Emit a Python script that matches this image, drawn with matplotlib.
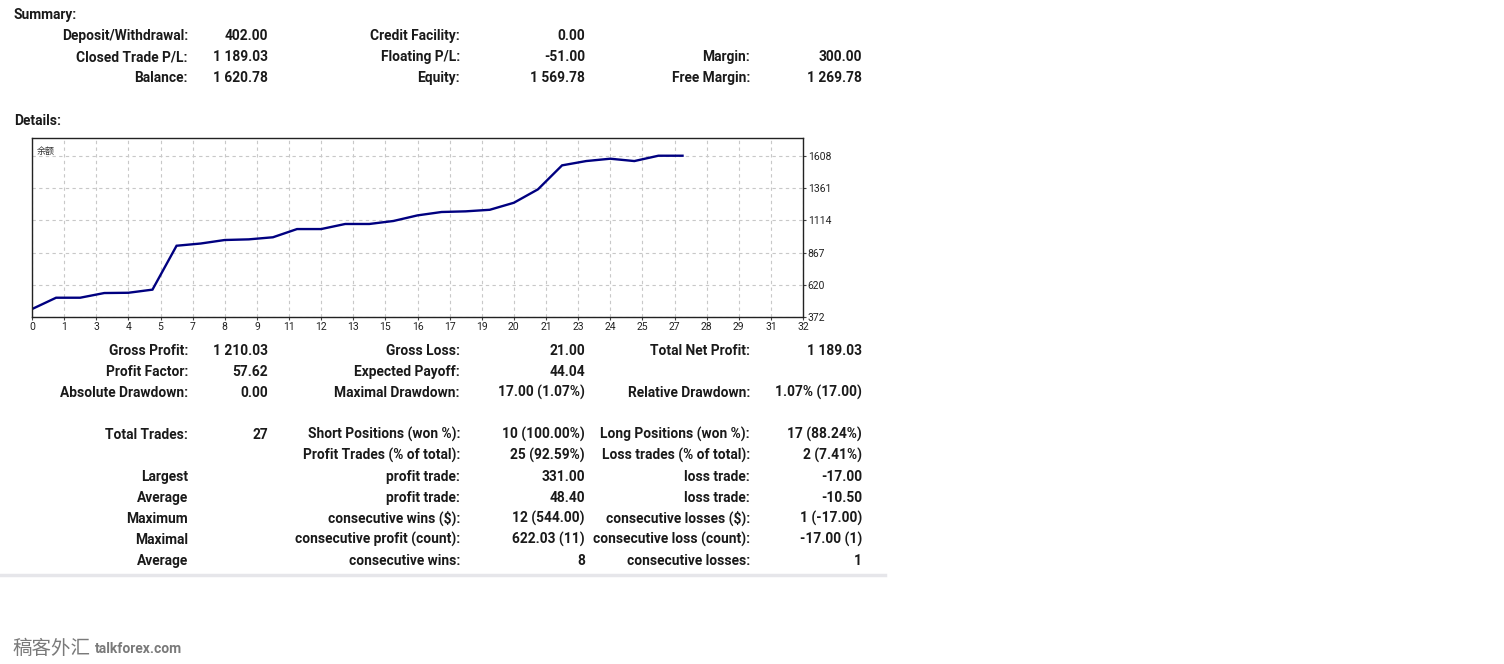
#!/usr/bin/env python

""" MT4 account report: summary, balance chart and details """

import matplotlib
matplotlib.use("Agg")
import matplotlib.pyplot as plt
from matplotlib.lines import Line2D

# balance curve, one point per closed trade
balance = [433, 520, 520, 556, 558, 582, 919, 936, 963, 968,
           984, 1047, 1047, 1086, 1086, 1109, 1152, 1178, 1183, 1195,
           1249, 1352, 1536, 1569, 1587, 1569, 1610, 1610]
y_ticks = [372, 620, 867, 1114, 1361, 1608]
x_tick_labels = ["0", "1", "3", "4", "5", "7", "8", "9", "11", "12", "13", "15", "16",
                 "17", "19", "20", "21", "23", "24", "25", "27", "28", "29", "31", "32"]
x_max = 32
y_top = 1746

# summary block (three column pairs)
summary_col1 = [("Deposit/Withdrawal:", "402.00"), ("Closed Trade P/L:", "1 189.03"),
                ("Balance:", "1 620.78")]
summary_col2 = [("Credit Facility:", "0.00"), ("Floating P/L:", "-51.00"),
                ("Equity:", "1 569.78")]
summary_col3 = [("", ""), ("Margin:", "300.00"), ("Free Margin:", "1 269.78")]

# details block
details_col1 = [("Gross Profit:", "1 210.03"), ("Profit Factor:", "57.62"),
                ("Absolute Drawdown:", "0.00"), ("", ""),
                ("Total Trades:", "27"), ("", ""), ("Largest", ""), ("Average", ""),
                ("Maximum", ""), ("Maximal", ""), ("Average", "")]
details_col2 = [("Gross Loss:", "21.00"), ("Expected Payoff:", "44.04"),
                ("Maximal Drawdown:", "17.00 (1.07%)"), ("", ""),
                ("Short Positions (won %):", "10 (100.00%)"),
                ("Profit Trades (% of total):", "25 (92.59%)"),
                ("profit trade:", "331.00"), ("profit trade:", "48.40"),
                ("consecutive wins ($):", "12 (544.00)"),
                ("consecutive profit (count):", "622.03 (11)"),
                ("consecutive wins:", "8")]
details_col3 = [("Total Net Profit:", "1 189.03"), ("", ""),
                ("Relative Drawdown:", "1.07% (17.00)"), ("", ""),
                ("Long Positions (won %):", "17 (88.24%)"),
                ("Loss trades (% of total):", "2 (7.41%)"),
                ("loss trade:", "-17.00"), ("loss trade:", "-10.50"),
                ("consecutive losses ($):", "1 (-17.00)"),
                ("consecutive loss (count):", "-17.00 (1)"),
                ("consecutive losses:", "1")]

W, H = 1504, 664
plt.rcParams['font.family'] = ['Roboto', 'DejaVu Sans']
fig = plt.figure(figsize=(W / 100, H / 100), dpi=100)
fig.patch.set_facecolor("white")

TXT = "#1a1a1a"
FS = 9.9


def put(x, y, s, ha="right", **kw):
    # place text using pixel coords of the reference (y = row centre)
    fig.text(x / W, 1 - (y + 5) / H, s, ha=ha, va="baseline", fontsize=FS,
             fontweight="bold", color=TXT, **kw)


def block(rows, x_label, x_value, y0, step=21):
    for i, (lab, val) in enumerate(rows):
        y = y0 + i * step
        if lab:
            put(x_label, y, lab)
        if val:
            put(x_value, y, val)


put(14, 14, "Summary:", ha="left")
block(summary_col1, 188, 268, 35)
block(summary_col2, 460, 585, 35)
block(summary_col3, 750, 862, 35)

put(14, 120, "Details:", ha="left")

# chart
left, right, top, bottom = 32, 803, 138, 317
ax = fig.add_axes([left / W, 1 - bottom / H, (right - left) / W, (bottom - top) / H])
ax.plot(range(len(balance)), balance, color="#000080", lw=1.7, solid_joinstyle="miter")
ax.set_xlim(0, x_max)
ax.set_ylim(y_ticks[0], y_top)
xt = [i * x_max / (len(x_tick_labels) - 1) for i in range(len(x_tick_labels))]
ax.set_xticks(xt)
ax.set_xticklabels(x_tick_labels)
ax.set_yticks(y_ticks)
ax.yaxis.tick_right()
ax.tick_params(axis="both", labelsize=7.5, length=2, width=0.8, color="#444444",
               labelcolor="#222222", pad=1.5)
ax.grid(True, color="#c8c8c8", linestyle=(0, (3, 3)), linewidth=0.8)
for sp in ax.spines.values():
    sp.set_color("#222222")
    sp.set_linewidth(1.0)
ax.text(0.006, 0.95, "余额", transform=ax.transAxes, ha="left", va="top",
        fontsize=6.5, color="#333333", family=["Noto Sans CJK SC", "DejaVu Sans"])

block(details_col1, 188, 268, 350)
block(details_col2, 460, 585, 350)
block(details_col3, 750, 862, 350)

# separator under the report
fig.add_artist(Line2D([0, 885 / W], [1 - 575 / H, 1 - 575 / H], color="#e6e6ea", lw=2.5))

# watermark
fig.text(12 / W, 1 - 648 / H, "稿客外汇", ha="left", va="center", fontsize=14,
         color="#7a7a7a", family=["Noto Sans CJK SC", "DejaVu Sans"])
fig.text(95 / W, 1 - 649 / H, "talkforex.com", ha="left", va="center", fontsize=10,
         color="#7a7a7a", fontweight="bold")

fig.savefig("out.png", dpi=100, facecolor="white")
